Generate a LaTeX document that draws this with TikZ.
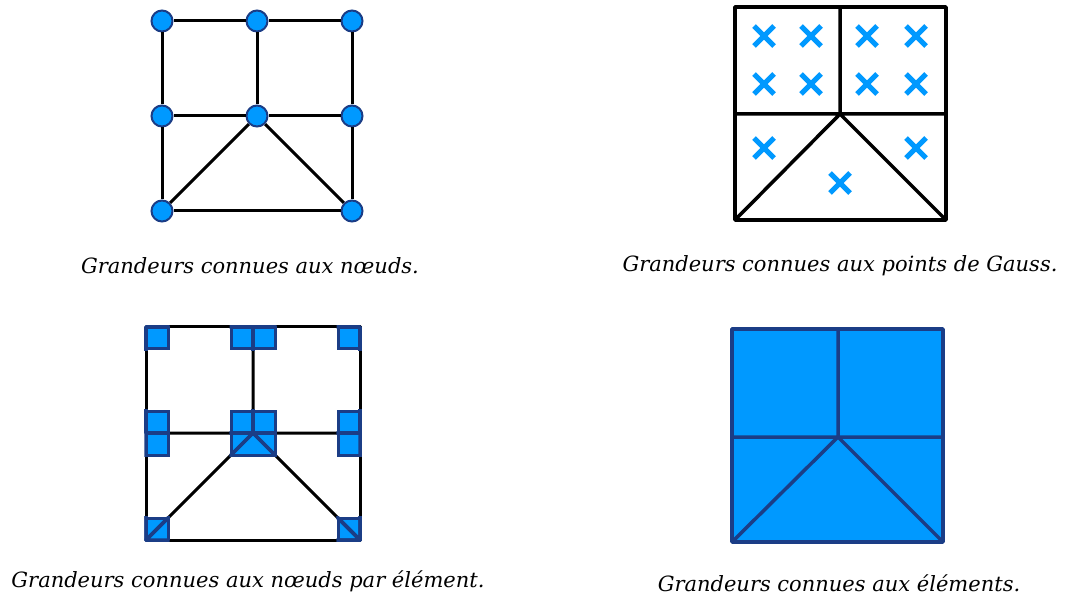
\documentclass[tikz,border=0pt]{standalone}
\usepackage{fontspec}
\setmainfont{DejaVu Serif}
\usetikzlibrary{positioning, calc}
\definecolor{gaussblue}{HTML}{0099FF}
\definecolor{edgeblue}{HTML}{1B3D86}

\begin{document}
\begin{tikzpicture}[x=1pt, y=-1pt,
  mesh/.style={line width=3pt, line join=round},
  knot/.style={circle, fill=gaussblue, draw=edgeblue, line width=2pt, minimum size=21pt, inner sep=0pt},
  gpt/.style={gaussblue, line width=5pt},
  nodebox/.style={fill=gaussblue, draw=edgeblue, line width=3pt},
  elem/.style={fill=gaussblue, draw=edgeblue, line width=3.5pt, line join=round},
  caption/.style={font=\itshape\fontsize{21}{25}\selectfont}]
\useasboundingbox (0,0) rectangle (1068,601);

% Top left: values at the nodes
\foreach \c/\x in {a/162, b/257, c/352} {
    \foreach \r/\y in {1/21, 2/116} {
        \node[knot] (n\c\r) at (\x,\y) {};
    }
}
\node[knot] (na3) at (162,211) {};
\node[knot] (nc3) at (352,211) {};
\foreach \u/\v in {na1/nb1, nb1/nc1, na1/na2, nb1/nb2, nc1/nc2, na2/nb2, nb2/nc2,
                   na2/na3, nc2/nc3, na3/nc3, na3/nb2, nb2/nc3} {
    \draw[mesh] (\u) -- (\v);
}
\node[caption] (capnodes) at (250,266) {Grandeurs connues aux nœuds.};

% Top right: values at the Gauss points
\coordinate (g1) at (735,7);   \coordinate (g2) at (840,7);   \coordinate (g3) at (946,7);
\coordinate (g4) at (735,114); \coordinate (g5) at (840,114); \coordinate (g6) at (946,114);
\coordinate (g7) at (735,220); \coordinate (g8) at (946,220);
\draw[mesh, line width=3.5pt] (g1) -- (g3) -- (g8) -- (g7) -- cycle;
\draw[mesh, line width=3.5pt] (g2) -- (g5) (g4) -- (g6) (g7) -- (g5) -- (g8);
\foreach \x/\y in {764/36, 811/36, 867/36, 916/36, 764/84, 811/84, 867/84, 916/84,
                   764/148, 916/148, 840/183} {
    \draw[gpt] (\x-10,\y-10) -- (\x+10,\y+10) (\x-10,\y+10) -- (\x+10,\y-10);
}
\node[caption] (capgauss) at (840,266) {Grandeurs connues aux points de Gauss.};

% Bottom left: values at the nodes, element by element
\coordinate (q1) at (146,327); \coordinate (q2) at (253,327); \coordinate (q3) at (360,327);
\coordinate (q4) at (146,433); \coordinate (q5) at (253,433); \coordinate (q6) at (360,433);
\coordinate (q7) at (146,540); \coordinate (q8) at (360,540);
\draw[mesh] (q1) -- (q3) -- (q8) -- (q7) -- cycle;
\draw[mesh] (q2) -- (q5) (q4) -- (q6) (q7) -- (q5) -- (q8);
\foreach \p/\q/\r/\s in {q1/q2/q5/q4, q2/q3/q6/q5, q4/q5/q7/q7, q7/q5/q8/q8, q5/q6/q8/q8} {
    \begin{scope}
        \clip (\p) -- (\q) -- (\r) -- (\s) -- cycle;
        \foreach \v in {\p,\q,\r,\s} {
            \filldraw[nodebox] ($(\v)+(-22,-22)$) rectangle ($(\v)+(22,22)$);
        }
    \end{scope}
}
% element edges inside the boxes
\foreach \p/\q/\r/\s in {q1/q2/q5/q4, q2/q3/q6/q5, q4/q5/q7/q7, q7/q5/q8/q8, q5/q6/q8/q8} {
    \foreach \v in {\p,\q,\r,\s} {
        \begin{scope}
            \clip ($(\v)+(-23.5,-23.5)$) rectangle ($(\v)+(23.5,23.5)$);
            \draw[edgeblue, line width=3.5pt, line join=round] (\p) -- (\q) -- (\r) -- (\s) -- cycle;
        \end{scope}
    }
}
\node[caption] (capelnodes) at (248,581) {Grandeurs connues aux nœuds par élément.};

% Bottom right: values per element
\coordinate (e1) at (732,329); \coordinate (e2) at (838,329); \coordinate (e3) at (943,329);
\coordinate (e4) at (732,437); \coordinate (e5) at (838,437); \coordinate (e6) at (943,437);
\coordinate (e7) at (732,542); \coordinate (e8) at (943,542);
\filldraw[elem] (e1) -- (e3) -- (e8) -- (e7) -- cycle;
\draw[elem, fill=none] (e2) -- (e5) (e4) -- (e6) (e7) -- (e5) -- (e8);
\node[caption] (capelems) at (839,583) {Grandeurs connues aux éléments.};
\end{tikzpicture}
\end{document}
